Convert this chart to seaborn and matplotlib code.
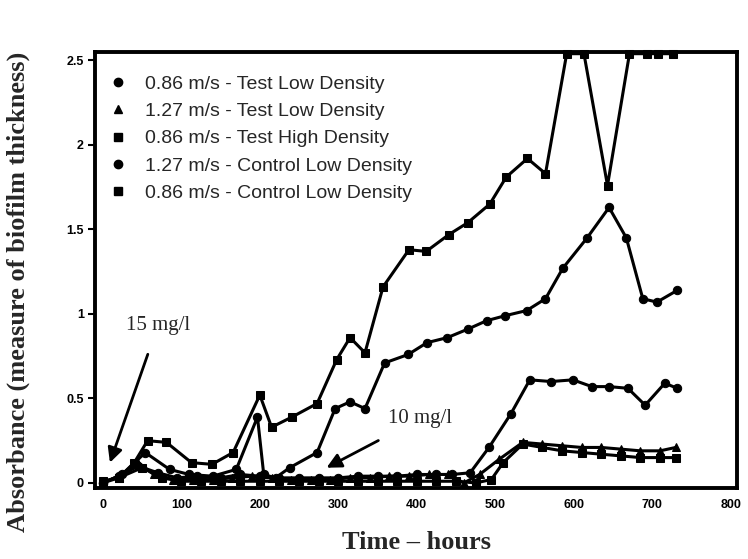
import matplotlib
matplotlib.use("Agg")
import matplotlib.pyplot as plt
import seaborn as sns
import pandas as pd
from matplotlib.lines import Line2D

# ---------------- data ----------------
series_names = [
    "0.86 m/s - Test Low Density",
    "1.27 m/s - Test Low Density",
    "0.86 m/s - Test High Density",
    "1.27 m/s - Control Low Density",
    "0.86 m/s - Control Low Density",
]

# 0.86 m/s - Test Low Density
hours_tl086 = [0, 20, 45, 70, 95, 120, 150, 175, 200, 225, 250, 275, 300, 325, 350, 375,
               400, 425, 445, 468, 492, 520, 544, 571, 599, 623, 645, 669, 691, 716, 732]
abs_tl086 = [0.0, 0.04, 0.10, 0.06, 0.03, 0.04, 0.03, 0.05, 0.04, 0.03, 0.03, 0.03, 0.03, 0.04,
             0.04, 0.04, 0.05, 0.05, 0.05, 0.06, 0.21, 0.41, 0.61, 0.60, 0.61, 0.57, 0.57, 0.56,
             0.46, 0.59, 0.56]

# 1.27 m/s - Test Low Density
hours_tl127 = [0, 20, 45, 65, 90, 115, 140, 165, 190, 215, 240, 265, 290, 315, 340, 365,
               390, 415, 440, 460, 480, 505, 535, 560, 585, 610, 635, 660, 685, 710, 730]
abs_tl127 = [0.0, 0.04, 0.12, 0.05, 0.02, 0.02, 0.02, 0.03, 0.04, 0.03, 0.02, 0.02, 0.02, 0.03,
             0.03, 0.04, 0.04, 0.05, 0.05, 0.0, 0.05, 0.14, 0.24, 0.23, 0.22, 0.21, 0.21, 0.20,
             0.19, 0.19, 0.21]

# 0.86 m/s - Test High Density
hours_th086 = [0, 20, 50, 75, 100, 125, 150, 175, 200, 225, 250, 275, 300, 325, 350, 375,
               400, 425, 450, 475, 495, 510, 535, 560, 585, 610, 635, 660, 685, 710, 730]
abs_th086 = [0.0, 0.03, 0.09, 0.03, 0.01, 0.01, 0.01, 0.01, 0.01, 0.01, 0.01, 0.01, 0.01, 0.01,
             0.01, 0.01, 0.01, 0.01, 0.01, 0.0, 0.02, 0.12, 0.23, 0.21, 0.19, 0.18, 0.17, 0.16,
             0.15, 0.15, 0.15]

# 1.27 m/s - Control Low Density
hours_cl127 = [0, 25, 54, 85, 110, 140, 170, 197, 205, 220, 238, 273, 296, 315, 334, 359,
               389, 413, 439, 465, 489, 513, 540, 564, 586, 617, 645, 667, 688, 706, 732]
abs_cl127 = [0.0, 0.05, 0.18, 0.08, 0.05, 0.04, 0.08, 0.39, 0.05, 0.03, 0.09, 0.18, 0.44, 0.48,
             0.44, 0.71, 0.76, 0.83, 0.86, 0.91, 0.96, 0.99, 1.02, 1.09, 1.27, 1.45, 1.63, 1.45,
             1.09, 1.07, 1.14]

# 0.86 m/s - Control Low Density
hours_cl086 = [0, 20, 40, 57, 81, 113, 139, 166, 200, 215, 241, 273, 298, 315, 334, 357,
               390, 412, 441, 465, 493, 514, 541, 564, 591, 613, 643, 671, 693, 707, 726]
abs_cl086 = [0.01, 0.03, 0.12, 0.25, 0.24, 0.12, 0.11, 0.18, 0.52, 0.33, 0.39, 0.47, 0.73, 0.86,
             0.77, 1.16, 1.38, 1.37, 1.47, 1.54, 1.65, 1.81, 1.92, 1.83, 2.54, 2.54, 1.76, 2.54,
             2.54, 2.54, 2.54]

x_ticks = [0, 100, 200, 300, 400, 500, 600, 700, 800]
y_ticks = [0, 0.5, 1, 1.5, 2, 2.5]
y_tick_labels = ["0", "0.5", "1", "1.5", "2", "2.5"]

all_hours = [hours_tl086, hours_tl127, hours_th086, hours_cl127, hours_cl086]
all_abs = [abs_tl086, abs_tl127, abs_th086, abs_cl127, abs_cl086]
markers = ["o", "^", "s", "o", "s"]

frames = []
for name, h, a in zip(series_names, all_hours, all_abs):
    frames.append(pd.DataFrame({"hours": h, "absorbance": a, "series": name}))
df = pd.concat(frames, ignore_index=True)

# ---------------- plot ----------------
sns.set_theme(style="white")
plt.rcParams['font.family'] = ['Liberation Sans', 'DejaVu Sans']
serif = ["Liberation Serif", "DejaVu Serif"]

fig = plt.figure(figsize=(7.48, 5.59), dpi=100)
ax = fig.add_axes([95 / 748, 1 - 488 / 559, (737 - 95) / 748, (488 - 52) / 559])

sns.lineplot(data=df, x="hours", y="absorbance", hue="series", style="series",
             hue_order=series_names, style_order=series_names,
             palette=["black"] * 5, markers=markers, dashes=False,
             markersize=6, linewidth=2.2, markeredgecolor="black",
             estimator=None, sort=False, legend=False, ax=ax, clip_on=False)

ax.set_xlim(-10, 808)
ax.set_ylim(-0.03, 2.55)
ax.set_xticks(x_ticks)
ax.set_xticklabels([str(t) for t in x_ticks], fontsize=9, fontweight="bold")
ax.set_yticks(y_ticks)
ax.set_yticklabels(y_tick_labels, fontsize=9, fontweight="bold")
ax.tick_params(axis="y", direction="out", length=5, width=1.5, left=True, pad=3, colors="black")
ax.tick_params(axis="x", length=0, pad=8, colors="black")

for sp in ax.spines.values():
    sp.set_color("black")
    sp.set_linewidth(2.8)

ax.set_xlabel("Time – hours", family=serif, fontsize=19, fontweight="bold", labelpad=14)
ax.set_ylabel("Absorbance (measure of biofilm thickness)", family=serif,
              fontsize=19, fontweight="bold")
ax.yaxis.set_label_coords(-65 / 642, 0.45)

handles = [Line2D([0], [0], marker=m, color="black", linestyle="none", markersize=6)
           for m in markers]
leg = ax.legend(handles, series_names, loc="upper left", bbox_to_anchor=(-0.01, 0.987),
                frameon=False, fontsize=14, handletextpad=0.8, labelspacing=0.5,
                handlelength=1.2)

ax.annotate("15 mg/l", xy=(9, 0.12), xytext=(70, 0.93), family=serif, fontsize=15,
            ha="center", va="center",
            arrowprops=dict(arrowstyle="-|>", color="black", lw=2, mutation_scale=22,
                            shrinkA=12, shrinkB=0))
ax.annotate("10 mg/l", xy=(285, 0.09), xytext=(404, 0.38), family=serif, fontsize=15,
            ha="center", va="center",
            arrowprops=dict(arrowstyle="-|>", color="black", lw=2, mutation_scale=22,
                            shrinkA=14, shrinkB=0))

fig.savefig("out.png", dpi=100)
